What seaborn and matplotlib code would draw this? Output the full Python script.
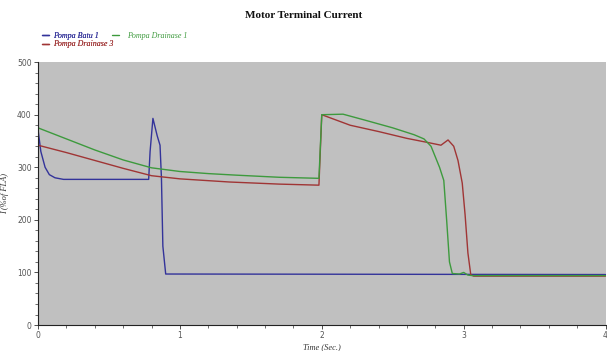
import matplotlib
matplotlib.use("Agg")
import matplotlib.pyplot as plt
import seaborn as sns
import pandas as pd
from matplotlib.ticker import MultipleLocator
from matplotlib.lines import Line2D

# ---- data ----
t_batu1 = [0.0, 0.02, 0.05, 0.08, 0.12, 0.18, 0.78, 0.79, 0.81, 0.84, 0.86, 0.87, 0.88, 0.90, 4.0]
i_batu1 = [372, 330, 300, 286, 280, 277, 277, 330, 393, 360, 342, 280, 150, 97, 96]

t_drain1 = [0.0, 0.2, 0.4, 0.6, 0.8, 1.0, 1.2, 1.4, 1.7, 1.98, 2.0, 2.15, 2.3, 2.5, 2.65,
            2.72, 2.77, 2.80, 2.83, 2.86, 2.88, 2.90, 2.92, 2.97, 3.0, 3.03, 3.06, 4.0]
i_drain1 = [375, 354, 333, 314, 299, 292, 288, 285, 281, 279, 400, 401, 390, 375, 362,
            354, 340, 320, 300, 275, 200, 120, 98, 97, 100, 95, 94, 94]

t_drain3 = [0.0, 0.2, 0.4, 0.6, 0.8, 1.0, 1.35, 1.7, 1.98, 2.0, 2.1, 2.2, 2.4, 2.6, 2.75,
            2.84, 2.89, 2.93, 2.96, 2.99, 3.01, 3.03, 3.05, 3.07, 4.0]
i_drain3 = [342, 328, 313, 298, 284, 278, 272, 268, 266, 400, 390, 380, 368, 355, 347,
            342, 352, 340, 313, 270, 210, 137, 96, 93, 93]

series_names = ["Pompa Batu 1", "Pompa Drainase 3", "Pompa Drainase 1"]
series_colors = ["#33339a", "#a03535", "#3d9a3d"]
x_ticks = [0, 1, 2, 3, 4]
y_ticks = [0, 100, 200, 300, 400, 500]

frames = []
for name, t, v in [("Pompa Batu 1", t_batu1, i_batu1),
                   ("Pompa Drainase 3", t_drain3, i_drain3),
                   ("Pompa Drainase 1", t_drain1, i_drain1)]:
    frames.append(pd.DataFrame({"t": t, "I": v, "series": name}))
df = pd.concat(frames, ignore_index=True)

sns.set_theme(style="ticks")
plt.rcParams["font.family"] = ["DejaVu Sans"]

fig = plt.figure(figsize=(6.07, 3.51), dpi=100)
ax = fig.add_axes([0.0626, 0.074, 0.935, 0.749])
ax.set_facecolor("#c0c0c0")

palette = dict(zip(series_names, series_colors))
sns.lineplot(data=df, x="t", y="I", hue="series", hue_order=series_names,
             palette=palette, estimator=None, sort=False, linewidth=1.0, ax=ax,
             legend=False)

ax.set_xlim(0, 4)
ax.set_ylim(0, 500)
ax.set_xticks(x_ticks)
ax.set_yticks(y_ticks)
ax.xaxis.set_minor_locator(MultipleLocator(0.2))
ax.yaxis.set_minor_locator(MultipleLocator(20))
ax.tick_params(axis="both", which="major", labelsize=5.5, labelcolor="#555555",
               length=3, width=0.6, color="#333333", pad=1.5)
ax.tick_params(axis="both", which="minor", length=2, width=0.5, color="#333333")
for s in ["top", "right"]:
    ax.spines[s].set_visible(False)
for s in ["left", "bottom"]:
    ax.spines[s].set_linewidth(0.8)
    ax.spines[s].set_color("#222222")

serif = ["Liberation Serif", "DejaVu Serif"]
ax.set_xlabel("Time (Sec.)", fontsize=6, style="italic", family=serif, color="#333333", labelpad=2)
ax.set_ylabel("I (%of FLA)", fontsize=6, style="italic", family=serif, color="#333333", labelpad=6)

fig.text(0.5, 0.955, "Motor Terminal Current", ha="center", va="center",
         fontsize=8, fontweight="bold", family=serif, color="#111111")

# legends (two blocks as in the reference)
legprop = {"family": serif, "style": "italic", "size": 5.8}
h = {n: Line2D([0], [0], color=c, lw=1.0) for n, c in zip(series_names, series_colors)}
leg1 = fig.legend([h["Pompa Batu 1"], h["Pompa Drainase 3"]],
                  ["Pompa Batu 1", "Pompa Drainase 3"],
                  loc="upper left", bbox_to_anchor=(0.069, 0.91), frameon=False,
                  handlelength=0.9, handletextpad=0.5, labelspacing=0.1,
                  borderpad=0, borderaxespad=0, prop=legprop)
for txt, n in zip(leg1.get_texts(), ["Pompa Batu 1", "Pompa Drainase 3"]):
    txt.set_color(palette[n])
leg2 = fig.legend([h["Pompa Drainase 1"]], ["Pompa Drainase 1"],
                  loc="upper left", bbox_to_anchor=(0.1845, 0.91), frameon=False,
                  handlelength=0.9, handletextpad=1.0,
                  borderpad=0, borderaxespad=0, prop=legprop)
for txt in leg2.get_texts():
    txt.set_color(palette["Pompa Drainase 1"])
fig.add_artist(leg1)

fig.savefig("out.png", dpi=100, facecolor="white")
